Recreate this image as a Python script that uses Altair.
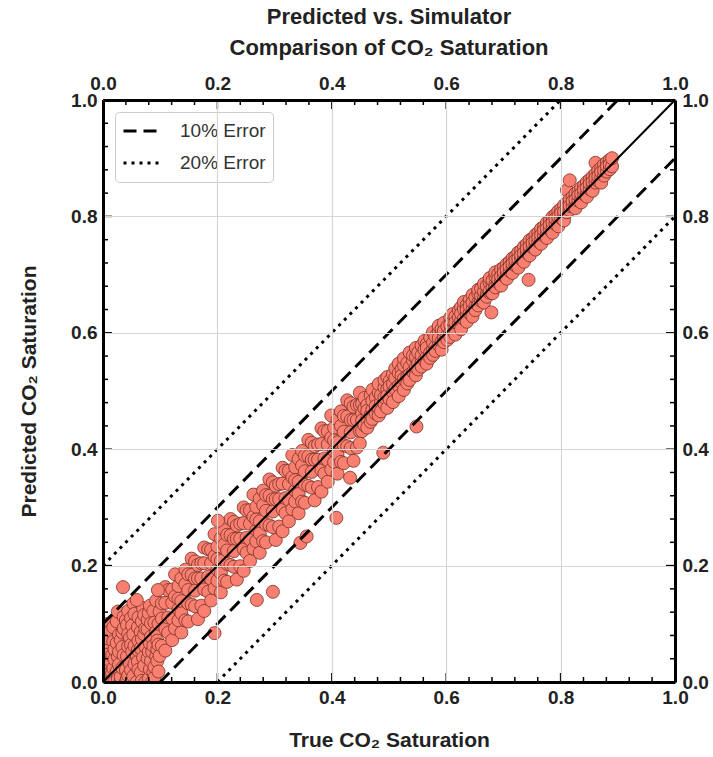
import altair as alt
import pandas as pd

FONT = "Liberation Sans"
W, H = 572, 582

title_lines = ["Predicted vs. Simulator", "Comparison of CO\u2082 Saturation"]
x_title = "True CO\u2082 Saturation"
y_title = "Predicted CO\u2082 Saturation"

major_ticks = [0.0, 0.2, 0.4, 0.6, 0.8, 1.0]
minor_ticks = [0.04, 0.08, 0.12, 0.16, 0.24, 0.28, 0.32, 0.36, 0.44, 0.48,
               0.52, 0.56, 0.64, 0.68, 0.72, 0.76, 0.84, 0.88, 0.92, 0.96]

error_labels = ["10% Error", "20% Error"]
error_offsets = [0.1, 0.2]

# (true saturation, [predicted saturations read at that true value])
low_points = [
    (0.000, [0.000, 0.025, 0.050, 0.078, 0.098]),
    (0.002, [0.066, 0.088]),
    (0.003, [0.041, 0.012]),
    (0.006, [0.010, 0.062, 0.004, 0.028]),
    (0.009, [0.047, 0.075, 0.100]),
    (0.010, [0.000, 0.013]),
    (0.013, [0.036, 0.016, 0.088]),
    (0.016, [0.015, 0.046, 0.003]),
    (0.018, [0.024, 0.070, 0.094]),
    (0.020, [0.000, 0.039, 0.056]),
    (0.024, [0.104, 0.067, 0.018]),
    (0.026, [0.006, 0.044, 0.121]),
    (0.028, [0.030, 0.081, 0.052]),
    (0.031, [0.000, 0.072, 0.009]),
    (0.034, [0.024, 0.060, 0.085]),
    (0.036, [0.046, 0.112, 0.092]),
    (0.040, [0.000, 0.021, 0.106]),
    (0.042, [0.044, 0.098, 0.006]),
    (0.044, [0.082, 0.122, 0.061, 0.011]),
    (0.047, [0.031, 0.076]),
    (0.049, [0.020, 0.110, 0.064]),
    (0.051, [0.002, 0.052, 0.097]),
    (0.053, [0.082, 0.135, 0.010]),
    (0.055, [0.062, 0.117, 0.031]),
    (0.059, [0.000, 0.046]),
    (0.061, [0.035, 0.094, 0.055]),
    (0.062, [0.071, 0.111, 0.021]),
    (0.066, [0.016, 0.086, 0.058]),
    (0.068, [0.002, 0.104, 0.074]),
    (0.070, [0.042, 0.127]),
    (0.072, [0.028, 0.115, 0.082]),
    (0.074, [0.061, 0.000, 0.092]),
    (0.078, [0.091, 0.107, 0.041]),
    (0.080, [0.006, 0.052, 0.118]),
    (0.082, [0.022, 0.131, 0.066]),
    (0.084, [0.078, 0.036, 0.101]),
    (0.086, [0.052, 0.000]),
    (0.088, [0.122, 0.062, 0.016]),
    (0.090, [0.008, 0.102, 0.026]),
    (0.093, [0.086, 0.140, 0.044]),
    (0.095, [0.071, 0.036, 0.056]),
    (0.097, [0.100, 0.018, 0.064]),
    (0.099, [0.121, 0.045]),
]

mid_points = [
    (0.103, [0.062, 0.109, 0.135]),
    (0.109, [0.091, 0.136, 0.163, 0.054]),
    (0.114, [0.085, 0.111, 0.158]),
    (0.121, [0.136, 0.072, 0.159, 0.109]),
    (0.126, [0.092, 0.147, 0.185]),
    (0.132, [0.125, 0.165, 0.106, 0.143]),
    (0.137, [0.085, 0.139, 0.178, 0.118]),
    (0.144, [0.168, 0.106, 0.193]),
    (0.149, [0.135, 0.158, 0.104, 0.185]),
    (0.155, [0.184, 0.133, 0.212]),
    (0.161, [0.130, 0.178, 0.157, 0.207]),
    (0.166, [0.108, 0.178, 0.201]),
    (0.172, [0.131, 0.178, 0.204]),
    (0.177, [0.159, 0.204, 0.231, 0.122]),
    (0.184, [0.155, 0.181, 0.228]),
    (0.189, [0.204, 0.140, 0.227, 0.177]),
    (0.195, [0.161, 0.216, 0.254]),
    (0.200, [0.193, 0.233, 0.174, 0.211]),
    (0.206, [0.154, 0.208, 0.247, 0.187]),
    (0.212, [0.236, 0.174, 0.261]),
    (0.217, [0.203, 0.226, 0.172, 0.253]),
    (0.223, [0.252, 0.201, 0.280]),
    (0.229, [0.198, 0.246, 0.225, 0.275]),
    (0.234, [0.176, 0.246, 0.269]),
    (0.240, [0.199, 0.246, 0.272]),
    (0.246, [0.228, 0.273, 0.300, 0.191]),
    (0.251, [0.222, 0.248, 0.295]),
    (0.257, [0.272, 0.208, 0.295, 0.245]),
    (0.263, [0.229, 0.284, 0.322]),
    (0.268, [0.261, 0.301, 0.242, 0.279]),
    (0.274, [0.222, 0.276, 0.315, 0.255]),
    (0.280, [0.304, 0.242, 0.329]),
    (0.285, [0.271, 0.294, 0.240, 0.321]),
    (0.291, [0.320, 0.269, 0.348]),
    (0.297, [0.266, 0.314, 0.293, 0.343]),
    (0.302, [0.244, 0.314, 0.337]),
    (0.308, [0.267, 0.314, 0.340]),
    (0.314, [0.296, 0.341, 0.368, 0.259]),
    (0.319, [0.290, 0.316, 0.363]),
    (0.325, [0.340, 0.276, 0.363, 0.313]),
    (0.331, [0.297, 0.352, 0.390]),
    (0.336, [0.329, 0.369, 0.310, 0.347]),
    (0.342, [0.290, 0.344, 0.383, 0.323]),
    (0.348, [0.372, 0.310, 0.397]),
    (0.353, [0.339, 0.362, 0.308, 0.389]),
    (0.359, [0.388, 0.337, 0.416]),
    (0.365, [0.334, 0.382, 0.361, 0.411]),
    (0.370, [0.312, 0.382, 0.405]),
    (0.376, [0.335, 0.382, 0.408]),
    (0.382, [0.364, 0.409, 0.436, 0.327]),
    (0.387, [0.358, 0.384, 0.431]),
    (0.393, [0.408, 0.344, 0.431, 0.381]),
    (0.399, [0.365, 0.420, 0.458]),
    (0.404, [0.397, 0.437, 0.378, 0.415]),
    (0.410, [0.358, 0.412, 0.451, 0.391]),
    (0.416, [0.440, 0.378, 0.465]),
    (0.421, [0.407, 0.430, 0.376, 0.457]),
    (0.427, [0.456, 0.405, 0.484]),
    (0.433, [0.402, 0.450, 0.429, 0.479]),
    (0.438, [0.380, 0.450, 0.473]),
    (0.444, [0.403, 0.450, 0.476]),
    (0.449, [0.431, 0.476, 0.497, 0.410]),
]

high_points = [
    (0.453, [0.431, 0.462, 0.449, 0.478]),
    (0.457, [0.470, 0.441, 0.488]),
    (0.462, [0.452, 0.476, 0.437, 0.466]),
    (0.468, [0.493, 0.459, 0.447]),
    (0.471, [0.468, 0.483, 0.502, 0.452]),
    (0.477, [0.461, 0.489, 0.474]),
    (0.482, [0.497, 0.470, 0.512, 0.458]),
    (0.486, [0.481, 0.493, 0.465]),
    (0.492, [0.506, 0.478, 0.519, 0.489]),
    (0.497, [0.471, 0.503, 0.492, 0.524]),
    (0.501, [0.486, 0.517, 0.508]),
    (0.507, [0.498, 0.529, 0.481, 0.512]),
    (0.511, [0.522, 0.503, 0.539]),
    (0.517, [0.509, 0.491, 0.531, 0.547]),
    (0.522, [0.514, 0.537, 0.526]),
    (0.526, [0.502, 0.544, 0.521, 0.556]),
    (0.532, [0.525, 0.513, 0.548]),
    (0.536, [0.541, 0.528, 0.566, 0.519]),
    (0.542, [0.533, 0.552, 0.561]),
    (0.547, [0.527, 0.559, 0.541, 0.574]),
    (0.551, [0.548, 0.566, 0.537]),
    (0.557, [0.549, 0.578, 0.561, 0.542]),
    (0.562, [0.571, 0.553, 0.586]),
    (0.566, [0.559, 0.581, 0.547, 0.574]),
    (0.572, [0.566, 0.592, 0.557]),
    (0.577, [0.571, 0.583, 0.601, 0.562]),
    (0.581, [0.576, 0.594, 0.569]),
    (0.587, [0.579, 0.603, 0.591, 0.612]),
    (0.592, [0.585, 0.571, 0.606]),
    (0.596, [0.593, 0.617, 0.584, 0.603]),
    (0.602, [0.596, 0.611, 0.588]),
    (0.607, [0.601, 0.626, 0.614, 0.593]),
    (0.611, [0.605, 0.621, 0.632]),
    (0.616, [0.609, 0.597, 0.628, 0.618]),
    (0.622, [0.615, 0.639, 0.626]),
    (0.626, [0.621, 0.606, 0.644, 0.633]),
    (0.631, [0.624, 0.641, 0.653]),
    (0.636, [0.631, 0.619, 0.648, 0.640]),
    (0.641, [0.634, 0.657, 0.646]),
    (0.646, [0.640, 0.628, 0.665, 0.652]),
]

top_points = [
    (0.651, [0.646, 0.661, 0.639]),
    (0.656, [0.652, 0.668, 0.647, 0.674]),
    (0.661, [0.655, 0.664, 0.676]),
    (0.666, [0.659, 0.671, 0.684, 0.652]),
    (0.671, [0.667, 0.681, 0.662]),
    (0.676, [0.669, 0.686, 0.672, 0.694]),
    (0.681, [0.677, 0.690, 0.668]),
    (0.686, [0.683, 0.697, 0.678, 0.704]),
    (0.691, [0.686, 0.701, 0.692]),
    (0.696, [0.689, 0.709, 0.697, 0.681]),
    (0.701, [0.698, 0.712, 0.704]),
    (0.706, [0.700, 0.718, 0.709, 0.693]),
    (0.711, [0.706, 0.722, 0.714]),
    (0.716, [0.711, 0.728, 0.703, 0.719]),
    (0.721, [0.716, 0.731, 0.724]),
    (0.726, [0.719, 0.738, 0.727, 0.712]),
    (0.731, [0.727, 0.741, 0.733]),
    (0.736, [0.729, 0.748, 0.737, 0.722]),
    (0.741, [0.738, 0.752, 0.744]),
    (0.746, [0.740, 0.759, 0.748, 0.733]),
    (0.751, [0.747, 0.762, 0.754]),
    (0.756, [0.751, 0.768, 0.758, 0.743]),
    (0.761, [0.757, 0.772, 0.764]),
    (0.766, [0.760, 0.779, 0.768, 0.753]),
    (0.771, [0.767, 0.782, 0.776]),
    (0.776, [0.770, 0.789, 0.779, 0.763]),
    (0.781, [0.778, 0.792, 0.785]),
    (0.786, [0.781, 0.799, 0.789, 0.772]),
    (0.791, [0.787, 0.803, 0.796]),
    (0.796, [0.790, 0.809, 0.799, 0.783]),
    (0.801, [0.797, 0.813, 0.806]),
    (0.806, [0.800, 0.819, 0.808, 0.793]),
    (0.811, [0.807, 0.823, 0.815, 0.845]),
    (0.816, [0.811, 0.829, 0.818, 0.862]),
    (0.821, [0.818, 0.833, 0.826]),
    (0.826, [0.821, 0.839, 0.829, 0.814]),
    (0.831, [0.827, 0.843, 0.836]),
    (0.836, [0.830, 0.849, 0.839, 0.824]),
    (0.841, [0.838, 0.853, 0.846]),
    (0.846, [0.840, 0.859, 0.849, 0.834]),
    (0.851, [0.847, 0.863, 0.856]),
    (0.856, [0.851, 0.868, 0.859, 0.844]),
    (0.861, [0.858, 0.873, 0.866, 0.892]),
    (0.866, [0.861, 0.879, 0.869]),
    (0.871, [0.867, 0.883, 0.876, 0.858]),
    (0.876, [0.870, 0.889, 0.879]),
    (0.881, [0.877, 0.893, 0.886]),
    (0.886, [0.881, 0.897, 0.889]),
    (0.890, [0.886, 0.900]),
]

outlier_points = [
    (0.035, [0.163]), (0.059, [0.141]), (0.096, [0.158]), (0.195, [0.084]),
    (0.201, [0.277]), (0.269, [0.141]), (0.297, [0.155]), (0.345, [0.239]),
    (0.356, [0.250]), (0.408, [0.282]), (0.432, [0.351]), (0.490, [0.394]),
    (0.548, [0.439]), (0.679, [0.635]), (0.744, [0.691]),
]

rows = []
for group in (low_points, mid_points, high_points, top_points, outlier_points):
    for tx, preds in group:
        for py in preds:
            rows.append({"true": tx, "pred": py})
scatter_df = pd.DataFrame(rows)

line_rows = []
for lab, off in zip(error_labels, error_offsets):
    line_rows += [
        {"x": 0.0, "y": off, "kind": lab, "side": "upper", "o": 0},
        {"x": 1.0 - off, "y": 1.0, "kind": lab, "side": "upper", "o": 1},
        {"x": off, "y": 0.0, "kind": lab, "side": "lower", "o": 0},
        {"x": 1.0, "y": 1.0 - off, "kind": lab, "side": "lower", "o": 1},
    ]
lines_df = pd.DataFrame(line_rows)
diag_df = pd.DataFrame({"x": [0.0, 1.0], "y": [0.0, 1.0]})

xs = alt.Scale(domain=[0, 1], nice=False, zero=False)
ys = alt.Scale(domain=[0, 1], nice=False, zero=False)

common = dict(values=major_ticks, format=".1f", labelFont=FONT, labelFontSize=19,
              labelFontWeight="bold", labelColor="#222222", labelFlush=False,
              labelOverlap=False, labelBound=False, ticks=False, domain=True,
              domainColor="black", domainWidth=3, zindex=1)

ax_bottom = alt.Axis(orient="bottom", grid=True, gridColor="#d6d6d6", gridWidth=1.2,
                     labelPadding=6, title=x_title, titleFont=FONT, titleFontSize=21,
                     titleFontWeight="bold", titleColor="#222222", titlePadding=22, **common)
ax_left = alt.Axis(orient="left", grid=True, gridColor="#d6d6d6", gridWidth=1.2,
                   labelPadding=6, title=y_title, titleFont=FONT, titleFontSize=21,
                   titleFontWeight="bold", titleColor="#222222", titlePadding=31, **common)
ax_top = alt.Axis(orient="top", grid=False, labelPadding=7, title=None, **common)
ax_right = alt.Axis(orient="right", grid=False, labelPadding=7, title=None, **common)

scatter = alt.Chart(scatter_df).mark_circle(
    size=170, fill="#F98070", stroke="#7a3026", strokeWidth=0.8, opacity=1, clip=True
).encode(
    x=alt.X("true:Q", scale=xs, axis=ax_bottom),
    y=alt.Y("pred:Q", scale=ys, axis=ax_left),
)

err_lines = alt.Chart(lines_df).mark_line(color="black", strokeWidth=3).encode(
    x=alt.X("x:Q", scale=xs, axis=None),
    y=alt.Y("y:Q", scale=ys, axis=None),
    order="o:Q",
    detail="side:N",
    strokeDash=alt.StrokeDash(
        "kind:N",
        scale=alt.Scale(domain=error_labels, range=[[13, 7], [3, 5]]),
        legend=alt.Legend(
            title=None, orient="top-left", offset=12, symbolType="stroke",
            symbolSize=1600, symbolStrokeWidth=3, symbolStrokeColor="black",
            labelFont=FONT, labelFontSize=19, labelColor="#333333", labelOffset=15,
            padding=7, strokeColor="#cccccc", cornerRadius=4, fillColor="white",
            rowPadding=8, clipHeight=24,
        ),
    ),
)

diag = alt.Chart(diag_df).mark_line(color="black", strokeWidth=2).encode(
    x=alt.X("x:Q", scale=xs, axis=ax_top),
    y=alt.Y("y:Q", scale=ys, axis=ax_right),
)

tick_layers = []
for vals, length in ((major_ticks, 9), (minor_ticks, 5)):
    tdf = pd.DataFrame({"t": vals})
    base = alt.Chart(tdf).mark_rule(color="black", strokeWidth=1.5)
    tick_layers.append(base.encode(x=alt.X("t:Q", scale=xs, axis=None),
                                   y=alt.value(H), y2=alt.value(H - length)))
    tick_layers.append(base.encode(x=alt.X("t:Q", scale=xs, axis=None),
                                   y=alt.value(0), y2=alt.value(length)))
    tick_layers.append(base.encode(y=alt.Y("t:Q", scale=ys, axis=None),
                                   x=alt.value(0), x2=alt.value(length)))
    tick_layers.append(base.encode(y=alt.Y("t:Q", scale=ys, axis=None),
                                   x=alt.value(W), x2=alt.value(W - length)))

chart = alt.layer(scatter, err_lines, diag, *tick_layers).resolve_axis(
    x="independent", y="independent"
).properties(
    width=W, height=H,
    title=alt.TitleParams(text=title_lines, font=FONT, fontSize=22, fontWeight="bold",
                          color="#222222", anchor="middle", frame="group",
                          lineHeight=31, offset=14),
    padding={"left": 103, "top": 100, "right": 38, "bottom": 75},
    autosize=alt.AutoSizeParams(type="none"),
    background="white",
).configure_view(stroke=None)

chart.save("out.html", embed_options={"renderer": "svg", "actions": False})
